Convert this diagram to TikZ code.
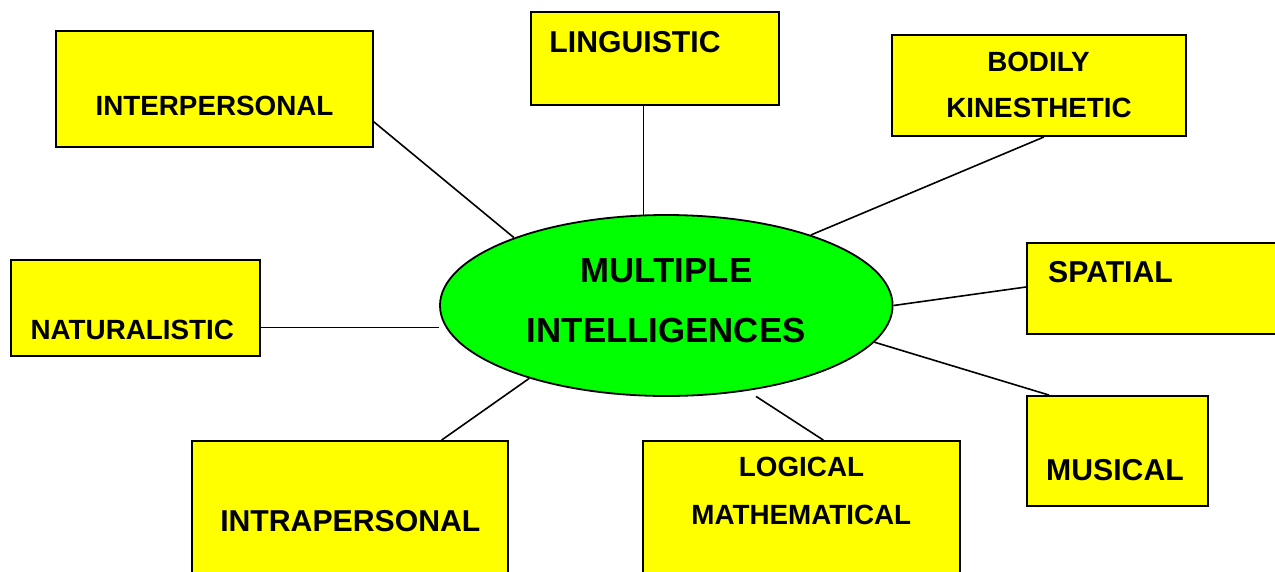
\documentclass[tikz,border=0pt]{standalone}
\usepackage{fontspec}
\setmainfont{Liberation Sans}
\usetikzlibrary{shapes.geometric}
\definecolor{boxyellow}{RGB}{255,255,0}
\definecolor{ellgreen}{RGB}{0,255,0}
\begin{document}
\begin{tikzpicture}[x=1pt,y=-1pt,
  box/.style={draw=black,fill=boxyellow,line width=1.9pt,rectangle,inner sep=0pt},
  hub/.style={draw=black,fill=ellgreen,line width=1.8pt,ellipse,inner sep=0pt},
  lbl/.style={inner sep=0pt,anchor=base,font=\bfseries\fontsize{27.8}{30}\selectfont},
  biglbl/.style={inner sep=0pt,anchor=base,font=\bfseries\fontsize{30.2}{32}\selectfont},
  hublbl/.style={inner sep=0pt,anchor=base,font=\bfseries\fontsize{34.8}{38}\selectfont},
  conn/.style={draw=black,line width=1.6pt}]
\clip (0,0) rectangle (1275,571);
\fill[white] (0,0) rectangle (1275,571);
% boxes
\node[box,minimum width=316.7pt,minimum height=115.7pt] (interp) at (214.35,88.85) {};
\node[box,minimum width=248.3pt,minimum height=92.7pt] (ling) at (654.85,58.65) {};
\node[box,minimum width=294pt,minimum height=101pt] (bod) at (1039,85.5) {};
\node[box,minimum width=249pt,minimum height=96pt] (nat) at (135.5,308) {};
\node[box,minimum width=315.7pt,minimum height=159pt] (intra) at (350.15,520.5) {};
\node[box,minimum width=317pt,minimum height=159pt] (logi) at (801.5,520.5) {};
\node[box,minimum width=273pt,minimum height=91pt] (spa) at (1163.5,288.5) {};
\node[box,minimum width=181pt,minimum height=110pt] (mus) at (1117.5,451) {};
\node[hub,minimum width=452.6pt,minimum height=181pt] (mi) at (666.3,305.5) {};
% texts
\node[lbl] (tinterp) at (214.5,115) {INTERPERSONAL};
\node[biglbl] (tling) at (635,52) {LINGUISTIC};
\node[lbl] (tbod1) at (1038.5,71.7) {BODILY};
\node[lbl] (tbod2) at (1039,117.7) {KINESTHETIC};
\node[lbl] (tnat) at (132.3,339) {NATURALISTIC};
\node[biglbl] (tintra) at (350.3,531.7) {INTRAPERSONAL};
\node[lbl] (tlog1) at (801.5,476.7) {LOGICAL};
\node[lbl] (tlog2) at (801.3,524) {MATHEMATICAL};
\node[biglbl] (tspa) at (1110.5,282) {SPATIAL};
\node[biglbl] (tmus) at (1115,480.7) {MUSICAL};
\node[hublbl] (tmi1) at (666.5,282) {MULTIPLE};
\node[hublbl] (tmi2) at (666.2,342.7) {INTELLIGENCES};
% connectors
\draw[conn] ([yshift=-32.85pt]interp.east) -- (mi.156.9);
\draw[conn] (mi.104.4) -- (mi.104.4 |- ling.south);
\draw[conn] ([xshift=5pt]bod.south) -- (mi.26.45);
\draw[conn] ([yshift=1.5pt]spa.west) -- (mi.0.1);
\draw[conn] ([yshift=-19.5pt]nat.east) -- ([yshift=-19.5pt]nat.east -| mi.west);
\draw[conn] ([xshift=-68.5pt]mus.north) -- (mi.350.7);
\draw[conn] ([xshift=21.8pt]logi.north) -- ([xshift=89.7pt,yshift=0.5pt]mi.south);
\draw[conn] ([xshift=91.5pt]intra.north) -- (mi.208.3);
\end{tikzpicture}
\end{document}
